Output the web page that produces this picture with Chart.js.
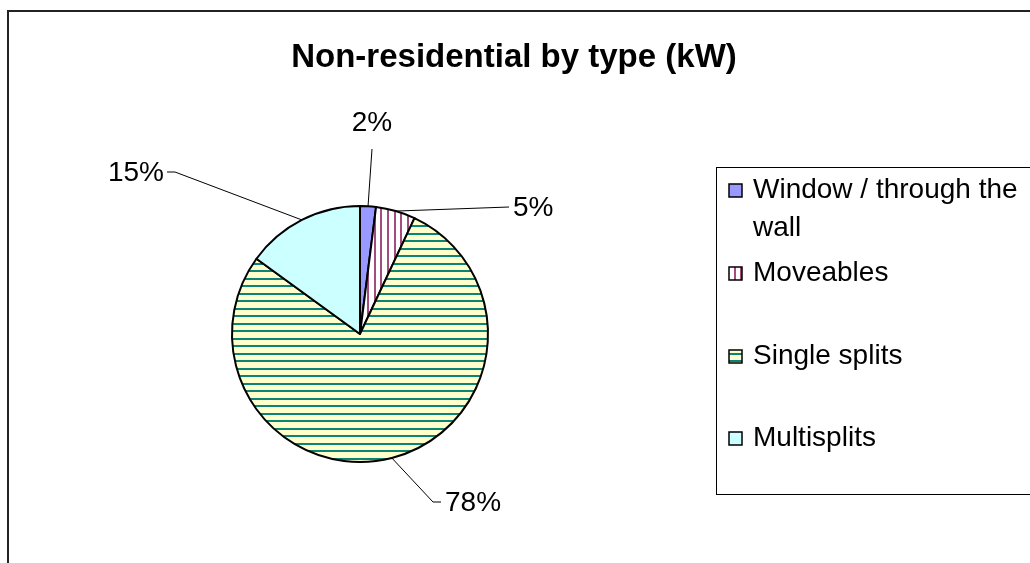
<!DOCTYPE html>
<html>
<head>
<meta charset="utf-8">
<script src="https://cdn.jsdelivr.net/npm/chart.js@4"></script>
<style>
  html, body { margin: 0; padding: 0; background: #fff; }
  #chart { display: block; }
</style>
</head>
<body>
<canvas id="chart" width="1030" height="563"></canvas>
<script>
"use strict";

// ── Data ────────────────────────────────────────────────────────────────
const categories = ['Window / through the wall', 'Moveables', 'Single splits', 'Multisplits'];
const shares     = [2, 5, 78, 15];           // % of non-residential kW
const pctLabels  = ['2%', '5%', '78%', '15%'];

// ── Style ───────────────────────────────────────────────────────────────
const FONT = "'Liberation Sans', Arial, sans-serif";

// Label layout: text anchor + where the leader line leaves the label
const LABEL_POS = [
  { tx: 372, ty: 123, align: 'center', pts: [[372, 149]] },
  { tx: 513, ty: 208, align: 'left',   pts: [[509, 207]] },
  { tx: 445, ty: 503, align: 'left',   pts: [[441, 502], [433, 502]] },
  { tx: 164, ty: 173, align: 'right',  pts: [[167, 172], [175, 172]] },
];

// Legend layout
const LEGEND = { x: 716, y: 167, w: 340, h: 327, boxX: 729, textX: 753, box: 13 };
const LEGEND_ROWS = [[190, 228], [273], [356], [438]];   // middle y of each text line

/** Build a repeating fill pattern from a small tile */
function makePattern(w, h, bg, drawFg) {
  const c = document.createElement('canvas');
  c.width = w; c.height = h;
  const g = c.getContext('2d');
  g.fillStyle = bg;
  g.fillRect(0, 0, w, h);
  drawFg(g);
  return g.createPattern(c, 'repeat');
}

const vertStripes = makePattern(20, 20, '#ffffff', g => {
  g.fillStyle = '#a34d7f';
  [0, 7, 14].forEach(x => g.fillRect(x, 0, 2, 20));
});

const horizStripes = makePattern(15, 15, '#ffffcc', g => {
  g.fillStyle = '#0b8478';
  [0, 8].forEach(y => g.fillRect(0, y, 15, 2));
});

const fills = ['#9999ff', vertStripes, horizStripes, '#ccffff'];

// ── Decorations: frame, title, labels, legend ───────────────────────────
const decor = {
  id: 'decor',
  beforeDraw(chart) {
    const ctx = chart.ctx;
    ctx.save();
    ctx.fillStyle = '#fff';
    ctx.fillRect(0, 0, chart.width, chart.height);
    ctx.strokeStyle = '#222';
    ctx.lineWidth = 2;
    ctx.strokeRect(8, 11, chart.width + 20, chart.height + 20);
    ctx.restore();
  },
  afterDraw(chart) {
    const ctx = chart.ctx;
    const arcs = chart.getDatasetMeta(0).data;
    ctx.save();

    // title
    ctx.fillStyle = '#000';
    ctx.font = `bold 33px ${FONT}`;
    ctx.textAlign = 'center';
    ctx.textBaseline = 'middle';
    ctx.fillText('Non-residential by type (kW)', 514, 58);

    // percentage labels with leader lines
    ctx.font = `28px ${FONT}`;
    arcs.forEach((arc, i) => {
      const p = arc.getProps(['x', 'y', 'startAngle', 'endAngle', 'outerRadius'], true);
      const mid = (p.startAngle + p.endAngle) / 2;
      const ex = p.x + Math.cos(mid) * p.outerRadius;
      const ey = p.y + Math.sin(mid) * p.outerRadius;
      const lp = LABEL_POS[i];

      ctx.strokeStyle = '#000';
      ctx.lineWidth = 1;
      ctx.beginPath();
      ctx.moveTo(lp.pts[0][0], lp.pts[0][1]);
      lp.pts.slice(1).forEach(([x, y]) => ctx.lineTo(x, y));
      ctx.lineTo(ex, ey);
      ctx.stroke();

      ctx.textAlign = lp.align;
      ctx.fillText(pctLabels[i], lp.tx, lp.ty);
    });

    // legend
    ctx.strokeStyle = '#000';
    ctx.lineWidth = 1;
    ctx.strokeRect(LEGEND.x + 0.5, LEGEND.y + 0.5, LEGEND.w, LEGEND.h);
    ctx.textAlign = 'left';
    const lines = [['Window / through the', 'wall'], ['Moveables'], ['Single splits'], ['Multisplits']];
    lines.forEach((txt, i) => {
      const ys = LEGEND_ROWS[i];
      const by = Math.round(ys[0] - LEGEND.box / 2);
      ctx.fillStyle = fills[i];
      ctx.fillRect(LEGEND.boxX, by, LEGEND.box, LEGEND.box);
      ctx.strokeStyle = '#000';
      ctx.lineWidth = 1.5;
      ctx.strokeRect(LEGEND.boxX, by, LEGEND.box, LEGEND.box);
      ctx.fillStyle = '#000';
      txt.forEach((t, k) => ctx.fillText(t, LEGEND.textX, ys[k]));
    });

    ctx.restore();
  },
};

new Chart(document.getElementById('chart'), {
  type: 'pie',
  data: {
    labels: categories,
    datasets: [{
      data: shares,
      backgroundColor: fills,
      borderColor: '#000',
      borderWidth: 2,
      borderJoinStyle: 'round',
    }],
  },
  options: {
    responsive: false,
    animation: false,
    layout: { padding: { left: 231, right: 541, top: 205, bottom: 100 } },
    plugins: {
      legend: { display: false },
      title: { display: false },
      tooltip: { enabled: false },
    },
  },
  plugins: [decor],
});
</script>
</body>
</html>
